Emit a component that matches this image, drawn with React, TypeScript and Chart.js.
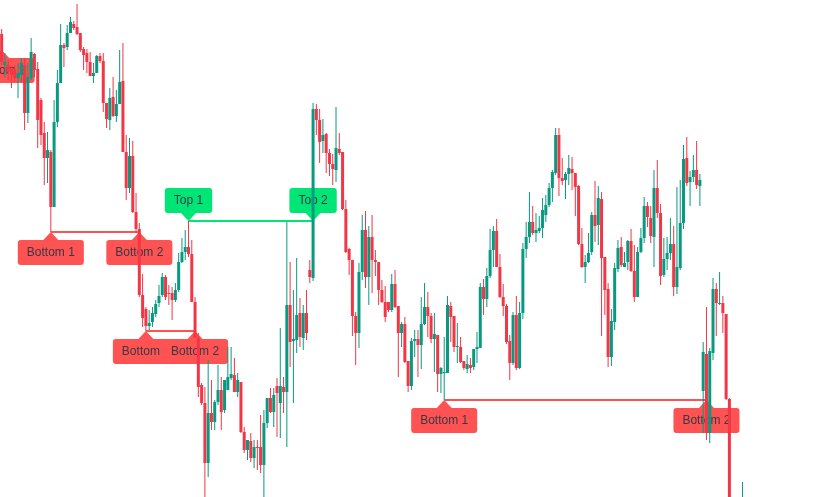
import React, { useEffect, useRef } from "react";
import { Chart, registerables } from "chart.js";

Chart.register(...registerables);

const SLOT_COUNT = 248;

const opens: (number | null)[] = [
  566, 535, 535, 532, 530, 522, 525, 535, 487, 522,
  546, 531, 500, 467, 442, 448, 393, 478, 517, 555,
  553, 567, 576, 573, 567, 551, 547, 538, 524, 527,
  544, 539, 497, 480, 503, 484, 496, 519, 448, 412,
  444, 388, 371, 305, 291, 274, 278, 286, 297, 305,
  323, 307, 307, 300, 310, 338, 348, 353, 346, 298,
  262, 215, 197, 137, 187, 178, 198, 210, 190, 210,
  222, 225, 208, 218, 168, 150, 159, 142, 153, 153,
  135, 177, 202, 188, 214, 197, 213, 208, 295, 259,
  260, 287, 262, 287, 330, 322, 491, 480, 459, 466,
  447, 436, 430, 451, 448, 391, 351, 340, 284, 267,
  328, 370, 323, 363, 340, 338, 310, 298, 298, 290,
  316, 294, 267, 276, 239, 214, 259, 261, 255, 276,
  293, 284, 261, 265, 226, 227, 227, 294, 284, 253,
  253, 239, 231, 235, 233, 251, 252, 313, 301, 324,
  350, 369, 333, 303, 294, 259, 237, 285, 232, 287,
  351, 363, 378, 367, 369, 372, 385, 395, 412, 427,
  465, 422, 420, 426, 431, 427, 414, 356, 333, 338,
  348, 385, 375, 401, 343, 311, 243, 278, 331, 353,
  333, 338, 359, 329, 303, 348, 362, 394, 382, 363,
  412, 387, 325, 341, 347, 356, 313, 332, 377, 442,
  418, 423, 430, 414, 209, 246, 167, 247, 311, 296,
  297, 286, 201, null, null, null, 60,
];

const closes: (number | null)[] = [
  538, 538, 528, 525, 522, 527, 537, 487, 523, 548,
  530, 480, 465, 442, 450, 393, 478, 517, 555, 552,
  567, 578, 572, 566, 550, 545, 538, 524, 527, 544,
  539, 497, 481, 502, 484, 496, 518, 448, 412, 444,
  388, 371, 305, 282, 274, 277, 287, 296, 304, 323,
  303, 306, 300, 310, 338, 348, 353, 346, 298, 262,
  213, 197, 137, 187, 178, 198, 210, 188, 220, 223,
  226, 208, 220, 168, 150, 160, 142, 153, 152, 135,
  177, 202, 188, 205, 207, 214, 208, 295, 258, 261,
  285, 263, 287, 267, 323, 491, 480, 458, 465, 447,
  436, 431, 452, 447, 391, 348, 340, 284, 267, 328,
  370, 323, 363, 340, 338, 310, 298, 283, 290, 316,
  293, 267, 276, 238, 214, 259, 261, 255, 276, 293,
  284, 261, 266, 226, 232, 228, 295, 283, 253, 254,
  238, 232, 236, 232, 251, 253, 313, 301, 324, 350,
  369, 333, 303, 294, 258, 237, 285, 232, 287, 351,
  363, 378, 367, 370, 372, 390, 395, 412, 428, 465,
  422, 419, 426, 432, 427, 413, 356, 333, 338, 347,
  385, 374, 402, 342, 310, 243, 279, 332, 352, 335,
  337, 359, 329, 303, 348, 362, 394, 383, 364, 412,
  387, 324, 341, 347, 356, 313, 333, 377, 441, 417,
  423, 430, 415, 420, 248, 167, 249, 311, 297, 297,
  287, 201, 50, null, null, null, 90,
];

const highs: (number | null)[] = [
  571, 547, 540, 534, 535, 537, 542, 542, 537, 562,
  547, 538, 502, 478, 468, 450, 500, 530, 576, 557,
  575, 583, 579, 596, 567, 553, 551, 548, 537, 545,
  547, 547, 497, 512, 523, 510, 550, 557, 465, 462,
  459, 407, 377, 326, 293, 290, 293, 300, 315, 327,
  325, 315, 313, 317, 347, 362, 370, 379, 360, 303,
  267, 217, 213, 240, 220, 200, 235, 223, 220, 253,
  253, 242, 227, 218, 173, 160, 167, 160, 160, 185,
  190, 202, 212, 212, 222, 272, 223, 378, 338, 310,
  342, 302, 295, 310, 340, 497, 496, 491, 481, 467,
  451, 446, 493, 467, 448, 400, 352, 340, 288, 337,
  385, 389, 374, 385, 350, 338, 320, 314, 298, 326,
  330, 294, 278, 283, 239, 262, 270, 270, 303, 317,
  308, 287, 287, 265, 233, 263, 304, 298, 284, 277,
  263, 239, 245, 242, 251, 268, 317, 321, 332, 371,
  374, 381, 346, 316, 296, 265, 288, 304, 298, 357,
  378, 408, 394, 387, 384, 402, 405, 417, 430, 472,
  472, 442, 428, 445, 443, 427, 415, 372, 345, 367,
  388, 419, 414, 408, 343, 317, 291, 337, 360, 363,
  348, 360, 371, 355, 353, 372, 403, 398, 394, 430,
  440, 396, 362, 363, 382, 374, 413, 420, 455, 463,
  429, 445, 459, 426, 258, 293, 252, 322, 317, 328,
  304, 286, 202, null, null, null, 118,
];

const lows: (number | null)[] = [
  535, 523, 520, 512, 518, 502, 518, 470, 477, 520,
  523, 452, 455, 415, 417, 368, 393, 473, 517, 533,
  550, 567, 570, 565, 548, 530, 527, 524, 517, 527,
  537, 488, 472, 470, 483, 478, 496, 448, 400, 407,
  387, 367, 303, 273, 269, 270, 273, 283, 293, 303,
  300, 295, 280, 298, 308, 337, 340, 343, 298, 262,
  203, 195, 103, 123, 170, 170, 195, 170, 187, 210,
  220, 208, 203, 167, 147, 140, 138, 132, 130, 127,
  103, 172, 187, 173, 163, 162, 187, 153, 233, 197,
  247, 253, 250, 260, 317, 319, 465, 437, 447, 427,
  424, 415, 418, 445, 390, 347, 325, 264, 235, 252,
  320, 312, 295, 307, 324, 295, 297, 278, 288, 288,
  292, 223, 253, 237, 208, 210, 243, 223, 231, 275,
  263, 257, 228, 208, 207, 200, 227, 258, 248, 237,
  237, 230, 227, 227, 230, 237, 252, 285, 293, 322,
  333, 333, 302, 284, 256, 220, 235, 230, 231, 281,
  342, 357, 365, 358, 367, 362, 378, 393, 398, 425,
  404, 415, 401, 415, 410, 384, 355, 332, 317, 337,
  345, 358, 355, 264, 285, 233, 234, 270, 328, 333,
  333, 330, 328, 298, 303, 347, 357, 373, 357, 333,
  382, 315, 323, 330, 340, 304, 306, 330, 371, 414,
  394, 418, 411, 394, 167, 160, 157, 240, 264, 295,
  267, 200, 40, null, null, null, 50,
];

// pattern markers (label text, candle index, price level)
const markerTexts = ["Bottom 2", "Bottom 1", "Bottom 2", "Bottom 1", "Bottom 2", "Top 1", "Top 2", "Bottom 1", "Bottom 2"];
const markerIndex = [0, 15, 42, 44, 59, 57, 95, 135, 215];
const markerPrice = [550, 368, 368, 269, 269, 379, 379, 200, 200];

// neckline connections
const lineFrom = [15, 44, 57, 135];
const lineTo = [42, 59, 95, 215];
const linePrice = [368, 269, 379, 200];
const lineIsTop = [false, false, true, false];

const UP = "#089981";
const DOWN = "#F23645";
const BOTTOM_COLOR = "#FF5252";
const TOP_COLOR = "#00E676";
const LABEL_TEXT = "#363a45";

const patternPlugin = {
  id: "patterns",
  beforeDatasetsDraw(chart: any) {
    const { ctx, scales } = chart;
    const xs = scales.x;
    const ys = scales.y;
    ctx.save();
    lineFrom.forEach((from, k) => {
      const yy = Math.round(ys.getPixelForValue(linePrice[k]));
      ctx.strokeStyle = lineIsTop[k] ? TOP_COLOR : BOTTOM_COLOR;
      ctx.lineWidth = 2;
      ctx.beginPath();
      ctx.moveTo(xs.getPixelForValue(from), yy);
      ctx.lineTo(xs.getPixelForValue(lineTo[k]), yy);
      ctx.stroke();
    });
    ctx.font = '12px "Liberation Sans", Arial, sans-serif';
    ctx.textAlign = "center";
    ctx.textBaseline = "middle";
    markerTexts.forEach((text, k) => {
      const isTop = text.startsWith("Top");
      const px = xs.getPixelForValue(markerIndex[k]);
      const py = Math.round(ys.getPixelForValue(markerPrice[k]));
      const w = ctx.measureText(text).width + 18;
      const h = 25;
      const gap = 8;
      ctx.fillStyle = isTop ? TOP_COLOR : BOTTOM_COLOR;
      const boxY = isTop ? py - gap - h : py + gap;
      ctx.beginPath();
      if (isTop) {
        ctx.moveTo(px, py);
        ctx.lineTo(px - 8, py - gap - 0.5);
        ctx.lineTo(px + 8, py - gap - 0.5);
      } else {
        ctx.moveTo(px, py);
        ctx.lineTo(px - 8, py + gap + 0.5);
        ctx.lineTo(px + 8, py + gap + 0.5);
      }
      ctx.closePath();
      ctx.fill();
      ctx.beginPath();
      if ((ctx as any).roundRect) {
        (ctx as any).roundRect(px - w / 2, boxY, w, h, 3);
      } else {
        ctx.rect(px - w / 2, boxY, w, h);
      }
      ctx.fill();
      ctx.fillStyle = LABEL_TEXT;
      ctx.fillText(text, px, boxY + h / 2 + 0.5);
    });
    ctx.restore();
  },
};

export default function App() {
  const ref = useRef<HTMLCanvasElement>(null);
  useEffect(() => {
    if (!ref.current) return;
    const labels = Array.from({ length: SLOT_COUNT }, (_, i) => String(i));
    const has = (i: number) => i < opens.length && opens[i] != null && closes[i] != null;
    const wickData = labels.map((_, i) => (has(i) ? [lows[i] as number, highs[i] as number] : null));
    const bodyData = labels.map((_, i) => (has(i) ? [opens[i] as number, closes[i] as number] : null));
    const colors = labels.map((_, i) => (has(i) && (closes[i] as number) >= (opens[i] as number) ? UP : DOWN));

    const chart = new Chart(ref.current, {
      type: "bar",
      data: {
        labels,
        datasets: [
          {
            label: "body",
            data: bodyData as any,
            backgroundColor: colors,
            borderWidth: 0,
            barThickness: 3,
            minBarLength: 1,
            grouped: false,
            inflateAmount: 0,
          } as any,
          {
            label: "wick",
            data: wickData as any,
            backgroundColor: colors,
            borderWidth: 0,
            barThickness: 1,
            grouped: false,
            inflateAmount: 0,
          } as any,
        ],
      },
      options: {
        responsive: false,
        animation: false,
        events: [],
        layout: { padding: 0 },
        plugins: { legend: { display: false }, tooltip: { enabled: false } },
        scales: {
          x: { type: "category", display: false, offset: true, grid: { display: false } },
          y: { type: "linear", display: false, min: 103, max: 600, grid: { display: false } },
        },
      },
      plugins: [patternPlugin],
    });
    return () => chart.destroy();
  }, []);

  return (
    <div style={{ position: "fixed", left: 0, top: 0, width: 813, height: 497, background: "#ffffff" }}>
      <canvas ref={ref} width={813} height={497} style={{ display: "block" }} />
    </div>
  );
}
